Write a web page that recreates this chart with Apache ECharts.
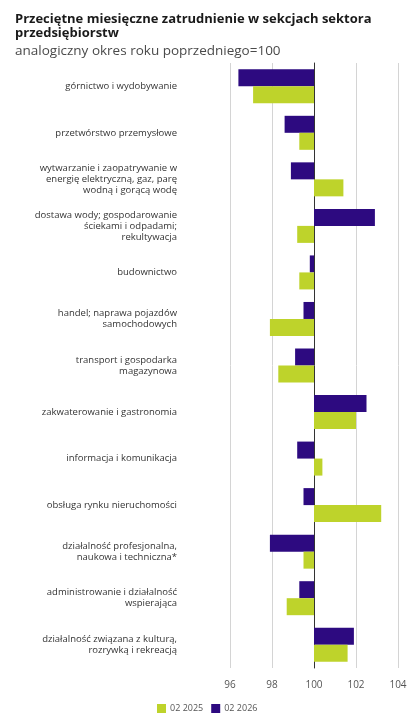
<!DOCTYPE html>
<html>
<head>
<meta charset="utf-8">
<script src="https://cdn.jsdelivr.net/npm/echarts@6/dist/echarts.min.js"></script>
<style>
  html, body { margin: 0; padding: 0; background: #fff; }
  #main { width: 414px; height: 716px; }
</style>
</head>
<body>
<div id="main"></div>
<script>
// kategorie (sekcje)
var categories = [
  'górnictwo i wydobywanie',
  'przetwórstwo przemysłowe',
  'wytwarzanie i zaopatrywanie w\nenergię elektryczną, gaz, parę\nwodną i gorącą wodę',
  'dostawa wody; gospodarowanie\nściekami i odpadami;\nrekultywacja',
  'budownictwo',
  'handel; naprawa pojazdów\nsamochodowych',
  'transport i gospodarka\nmagazynowa',
  'zakwaterowanie i gastronomia',
  'informacja i komunikacja',
  'obsługa rynku nieruchomości',
  'działalność profesjonalna,\nnaukowa i techniczna*',
  'administrowanie i działalność\nwspierająca',
  'działalność związana z kulturą,\nrozrywką i rekreacją'
];

// wskaźniki (analogiczny okres roku poprzedniego = 100)
var values2025 = [97.1, 99.3, 101.4, 99.2, 99.3, 97.9, 98.3, 102.0, 100.4, 103.2, 99.5, 98.7, 101.6];
var values2026 = [96.4, 98.6, 98.9, 102.9, 99.8, 99.5, 99.1, 102.5, 99.2, 99.5, 97.9, 99.3, 101.9];

var xTicks = [96, 98, 100, 102, 104];
var base = 100;

// słupki rysowane od linii 100
function shift(arr) {
  return arr.map(function (v) { return +(v - base).toFixed(2); });
}

var chart = echarts.init(document.getElementById('main'));

var option = {
  animation: false,
  title: {
    text: 'Przeciętne miesięczne zatrudnienie w sekcjach sektora\nprzedsiębiorstw',
    subtext: 'analogiczny okres roku poprzedniego=100',
    left: 10,
    top: 7,
    itemGap: 4,
    textStyle: {
      fontFamily: 'Open Sans',
      fontSize: 13,
      fontWeight: 'bold',
      color: '#1a1a1a',
      lineHeight: 14
    },
    subtextStyle: {
      fontFamily: 'Open Sans',
      fontSize: 13.5,
      color: '#4a4a4a'
    }
  },
  legend: {
    data: ['02 2025', '02 2026'],
    left: 152,
    top: 699,
    itemWidth: 9,
    itemHeight: 9,
    itemGap: 8,
    icon: 'rect',
    textStyle: { fontFamily: 'Open Sans', fontSize: 9, color: '#555', padding: [0, 0, 0, -1] }
  },
  grid: {
    left: 230,
    right: 16,
    top: 63,
    bottom: 48
  },
  xAxis: {
    type: 'value',
    min: xTicks[0] - base,
    max: xTicks[xTicks.length - 1] - base,
    interval: 2,
    axisLine: { show: false },
    axisTick: { show: false },
    axisLabel: {
      margin: 12,
      fontFamily: 'Open Sans',
      fontSize: 10,
      color: '#555',
      formatter: function (v) { return v + base; }
    },
    splitLine: { lineStyle: { color: '#d4d4d4', width: 1 } }
  },
  yAxis: {
    type: 'category',
    inverse: true,
    data: categories,
    axisLine: { onZero: true, lineStyle: { color: '#333', width: 1 } },
    axisTick: { show: false },
    axisLabel: {
      margin: 53,
      fontFamily: 'Open Sans',
      fontSize: 9.5,
      lineHeight: 11,
      color: '#333',
      align: 'right'
    }
  },
  series: [{
    name: '02 2026',
    type: 'bar',
    data: shift(values2026),
    barWidth: 17,
    barGap: '0%',
    itemStyle: { color: '#2d0a80' }
  }, {
    name: '02 2025',
    type: 'bar',
    data: shift(values2025),
    barWidth: 17,
    barGap: '0%',
    itemStyle: { color: '#bed32b' }
  }]
};

chart.setOption(option);
</script>
</body>
</html>
